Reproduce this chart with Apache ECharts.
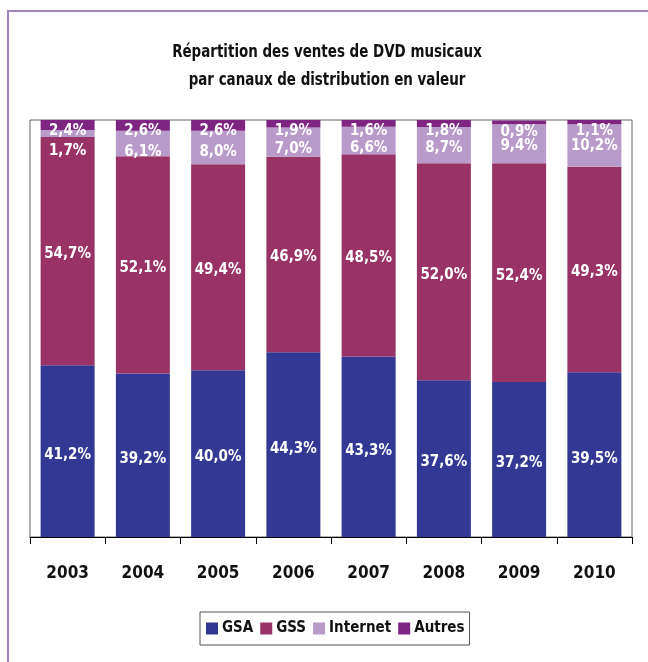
<!DOCTYPE html>
<html><head><meta charset="utf-8">
<script src="https://cdn.jsdelivr.net/npm/echarts@6/dist/echarts.min.js"></script>
<style>html,body{margin:0;padding:0;background:#fff}#c{width:648px;height:662px}</style>
</head><body><div id="c"></div>
<script>
const years = ['2003','2004','2005','2006','2007','2008','2009','2010'];
const gsa = [41.2, 39.2, 40.0, 44.3, 43.3, 37.6, 37.2, 39.5];
const gss = [54.7, 52.1, 49.4, 46.9, 48.5, 52.0, 52.4, 49.3];
const internet = [1.7, 6.1, 8.0, 7.0, 6.6, 8.7, 9.4, 10.2];
const autres = [2.4, 2.6, 2.6, 1.9, 1.6, 1.8, 0.9, 1.1];
const seriesNames = ['GSA', 'GSS', 'Internet', 'Autres'];
const titleText = 'Répartition des ventes de DVD musicaux\npar canaux de distribution en valeur';
const colors = ['#333894', '#993366', '#b89bca', '#7d2581'];

const FONT = '"DejaVu Sans Condensed", sans-serif';
const fmt = v => v.toFixed(1).replace('.', ',') + '%';
const labelBase = {show: true, color: '#fff', fontFamily: FONT, fontWeight: 'bold', fontSize: 15,
  formatter: p => fmt(p.value)};

const chart = echarts.init(document.getElementById('c'));
chart.setOption({
  animation: false,
  color: colors,
  graphic: [
    {type: 'rect', shape: {x: 8, y: 11, width: 700, height: 700},
      style: {fill: 'none', stroke: '#9d82bb', lineWidth: 2}, silent: true},
    {type: 'text', x: 327, y: 38, scaleX: 0.83, silent: true,
      style: {text: titleText, fontFamily: FONT, fontWeight: 'bold', fontSize: 18, lineHeight: 28,
        fill: '#111', align: 'center', verticalAlign: 'top'}}
  ],
  legend: {
    bottom: 17, left: 200,
    data: seriesNames,
    icon: 'rect', itemWidth: 12, itemHeight: 12, itemGap: 7,
    borderColor: '#555', borderWidth: 1, padding: [9, 5, 9, 6],
    textStyle: {fontFamily: FONT, fontWeight: 'bold', fontSize: 15, color: '#111', padding: [0, 0, 0, -1]}
  },
  grid: {left: 30, right: 16, top: 120, bottom: 125, show: true, borderColor: '#666', borderWidth: 1},
  xAxis: {
    type: 'category', data: years,
    axisLine: {lineStyle: {color: '#000', width: 1}},
    axisTick: {show: true, length: 7, lineStyle: {color: '#000'}},
    axisLabel: {margin: 28, fontFamily: FONT, fontWeight: 'bold', fontSize: 17, color: '#111'}
  },
  yAxis: {type: 'value', min: 0, max: 100, show: false, splitLine: {show: false}},
  series: [
    {name: 'GSA', type: 'bar', stack: 's', data: gsa, barWidth: 54,
      label: Object.assign({}, labelBase, {position: 'inside', offset: [0, 4]})},
    {name: 'GSS', type: 'bar', stack: 's', data: gss, barWidth: 54,
      label: Object.assign({}, labelBase, {position: 'inside', offset: [0, 3]})},
    {name: 'Internet', type: 'bar', stack: 's', data: internet, barWidth: 54,
      label: Object.assign({}, labelBase, {position: ['50%', 14], align: 'center', verticalAlign: 'top'})},
    {name: 'Autres', type: 'bar', stack: 's', data: autres, barWidth: 54,
      label: Object.assign({}, labelBase, {position: ['50%', 4], align: 'center', verticalAlign: 'top'})}
  ]
});
</script></body></html>
